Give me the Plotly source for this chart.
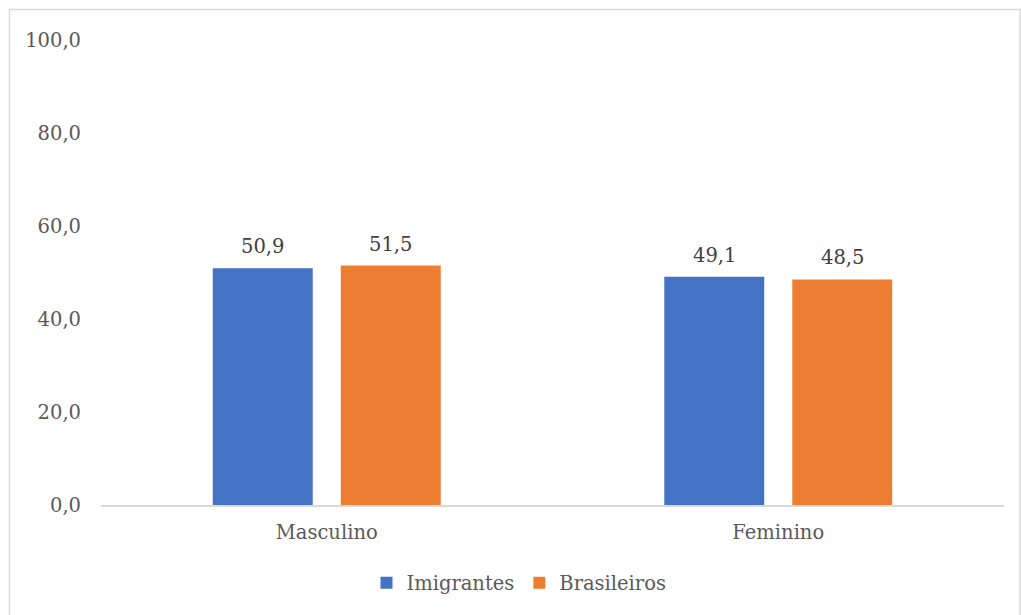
import plotly.graph_objects as go

categories = ["Masculino", "Feminino"]
imigrantes = [50.9, 49.1]
brasileiros = [51.5, 48.5]
series_names = ["Imigrantes", "Brasileiros"]
colors = ["#4472C4", "#ED7D31"]
y_ticks = [0, 20, 40, 60, 80, 100]

W, H = 1021, 615
ml, mr, mt, mb = 101, 17, 40, 110
FONT = "DejaVu Serif"
FS = 19.5

fig = go.Figure()
offsets = [-64, 64]
annotations = []
for name, vals, col, off in zip(series_names, [imigrantes, brasileiros], colors, offsets):
    fig.add_trace(go.Bar(
        x=categories, y=vals, name=name, marker=dict(color=col, line=dict(width=0)),
    ))
    for c, v in zip(categories, vals):
        annotations.append(dict(
            x=c, y=v, xref="x", yref="y", text=f"{v:.1f}".replace(".", ","),
            showarrow=False, xshift=off, yshift=8, yanchor="bottom", xanchor="center",
            font=dict(family=FONT, size=FS, color="#404040"),
        ))

pw = W - ml - mr
ph = H - mt - mb
def px2x(p):
    return (p - ml) / pw
def py2y(p):
    return 1 - (p - mt) / ph

fig.update_layout(
    width=W, height=H,
    margin=dict(l=ml, r=mr, t=mt, b=mb, pad=0),
    paper_bgcolor="white", plot_bgcolor="white",
    separators=",.",
    barmode="group", bargap=0.433, bargroupgap=0.219,
    font=dict(family=FONT, size=FS, color="#595959"),
    showlegend=True,
    legend=dict(orientation="h", x=px2x(519), xanchor="center", y=py2y(583), yanchor="middle",
                font=dict(family=FONT, size=FS, color="#595959"), itemwidth=30,
                bgcolor="rgba(0,0,0,0)"),
    xaxis=dict(showline=True, linecolor="#D9D9D9", linewidth=1.5, showgrid=False,
               ticks="", ticklabelstandoff=9, tickfont=dict(family=FONT, size=FS, color="#595959")),
    yaxis=dict(range=[0, 100], tickvals=y_ticks, tickformat=".1f", showgrid=False,
               showline=False, zeroline=False, ticks="", ticklabelstandoff=19,
               tickfont=dict(family=FONT, size=FS, color="#595959")),
    annotations=annotations,
    shapes=[dict(type="rect", xref="paper", yref="paper",
                 x0=px2x(9.5), x1=px2x(1020), y0=py2y(9.5), y1=py2y(625),
                 line=dict(color="#D9D9D9", width=1.5), fillcolor="rgba(0,0,0,0)", layer="below")],
)

fig.write_html("out.html")
